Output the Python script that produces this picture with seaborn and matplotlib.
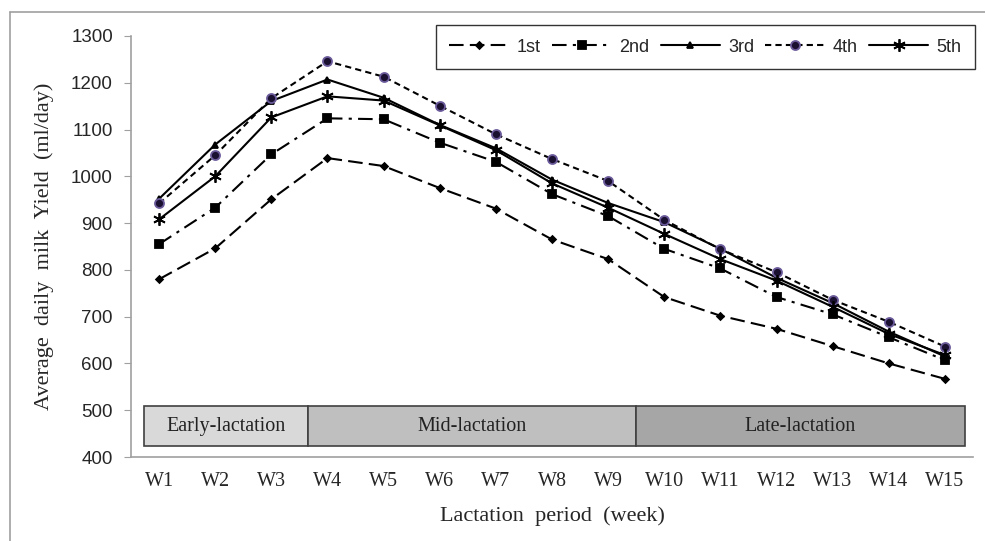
import numpy as np
import pandas as pd
import matplotlib
matplotlib.use("Agg")
import matplotlib.pyplot as plt
from matplotlib.patches import Rectangle
from matplotlib.lines import Line2D
import seaborn as sns

# data
weeks = ["W%d" % i for i in range(1, 16)]
parity = ["1st", "2nd", "3rd", "4th", "5th"]
yield_1st = [780, 846, 951, 1039, 1022, 975, 931, 865, 823, 742, 702, 674, 637, 600, 567]
yield_2nd = [855, 933, 1047, 1124, 1122, 1072, 1031, 962, 915, 845, 803, 742, 705, 656, 607]
yield_3rd = [952, 1068, 1161, 1207, 1168, 1110, 1060, 993, 943, 902, 845, 783, 729, 668, 615]
yield_4th = [942, 1045, 1167, 1246, 1213, 1151, 1090, 1037, 990, 907, 844, 795, 736, 689, 636]
yield_5th = [908, 1000, 1126, 1171, 1162, 1109, 1056, 985, 933, 877, 823, 777, 721, 663, 618]

phase_names = ["Early-lactation", "Mid-lactation", "Late-lactation"]
phase_edges = [-0.27, 2.66, 8.5, 14.35]
phase_colors = ["#d9d9d9", "#bfbfbf", "#a6a6a6"]
band_low, band_high = 423, 508

series = [yield_1st, yield_2nd, yield_3rd, yield_4th, yield_5th]
df = pd.DataFrame({
    "week": np.tile(np.arange(len(weeks)), len(parity)),
    "yield": np.concatenate(series),
    "parity": np.repeat(parity, len(weeks)),
})

styles = {
    "1st": dict(ls=(0, (7, 3)), marker="D", ms=3.5, mfc="black", mec="black"),
    "2nd": dict(ls=(0, (7, 3, 1.5, 3)), marker="s", ms=6, mfc="black", mec="black"),
    "3rd": dict(ls="-", marker="^", ms=5, mfc="black", mec="black"),
    "4th": dict(ls=(0, (3, 2)), marker="o", ms=6.5, mfc="#1a1030", mec="#6a5a9a"),
    "5th": dict(ls="-", marker=(6, 2, 0), ms=9, mfc="black", mec="black"),
}

sns.set_style("white")
plt.rcParams["font.family"] = ["Liberation Serif", "DejaVu Serif"]

fig = plt.figure(figsize=(9.85, 5.41), dpi=100)
ax = fig.add_axes([131 / 985, 1 - 457 / 541, 842 / 985, 421 / 541])

for p in parity:
    st = styles[p]
    sns.lineplot(data=df[df["parity"] == p], x="week", y="yield", ax=ax,
                 color="black", linewidth=1.5, linestyle=st["ls"],
                 marker=st["marker"], markersize=st["ms"],
                 markerfacecolor=st["mfc"], markeredgecolor=st["mec"],
                 markeredgewidth=1.3, label=p, legend=False)

# lactation phase bands
for name, x0, x1, c in zip(phase_names, phase_edges[:-1], phase_edges[1:], phase_colors):
    ax.add_patch(Rectangle((x0, band_low), x1 - x0, band_high - band_low,
                           facecolor=c, edgecolor="#404040", linewidth=1.2, zorder=1))
    ax.text((x0 + x1) / 2, (band_low + band_high) / 2, name, ha="center", va="center",
            fontsize=14.5, color="#222222", zorder=2)

ax.set_xlim(-0.5, len(weeks) - 0.5)
ax.set_ylim(400, 1300)
ax.set_yticks(np.arange(400, 1301, 100))
ax.set_xticks(np.arange(len(weeks)))
ax.set_xticklabels(weeks, fontsize=14.5)
for t in ax.get_yticklabels():
    t.set_family(["Liberation Sans", "DejaVu Sans"])
    t.set_fontsize(13.5)
ax.tick_params(axis="y", length=5, color="#a0a0a0", pad=8, left=True)
ax.tick_params(axis="x", length=0, pad=11)

for s in ["top", "right"]:
    ax.spines[s].set_visible(False)
for s in ["left", "bottom"]:
    ax.spines[s].set_color("#a0a0a0")
    ax.spines[s].set_linewidth(1.2)

ax.set_xlabel("Lactation  period  (week)", fontsize=16, labelpad=11)
ax.set_ylabel("Average  daily  milk  Yield  (ml/day)", fontsize=16, labelpad=12)

handles = [Line2D([], [], color="black", linewidth=1.5, linestyle=styles[p]["ls"],
                  marker=styles[p]["marker"], markersize=styles[p]["ms"],
                  markerfacecolor=styles[p]["mfc"], markeredgecolor=styles[p]["mec"],
                  markeredgewidth=1.3) for p in parity]
leg = fig.legend(handles, parity, loc="upper right", bbox_to_anchor=(975 / 985, 1 - 25 / 541),
                 ncol=5, numpoints=1, handlelength=3.3, columnspacing=0.6, handletextpad=0.45,
                 fancybox=False, frameon=True, borderpad=0.75, borderaxespad=0,
                 prop={"family": ["Liberation Sans", "DejaVu Sans"], "size": 13})
leg.get_frame().set_edgecolor("black")
leg.get_frame().set_linewidth(1.0)

# outer light border of the original figure
fig.add_artist(Line2D([10 / 985, 10 / 985], [0, 1 - 12 / 541], transform=fig.transFigure,
                      color="#a0a0a0", linewidth=1.2))
fig.add_artist(Line2D([10 / 985, 1], [1 - 12 / 541, 1 - 12 / 541], transform=fig.transFigure,
                      color="#a0a0a0", linewidth=1.2))

fig.savefig("out.png", dpi=100)
